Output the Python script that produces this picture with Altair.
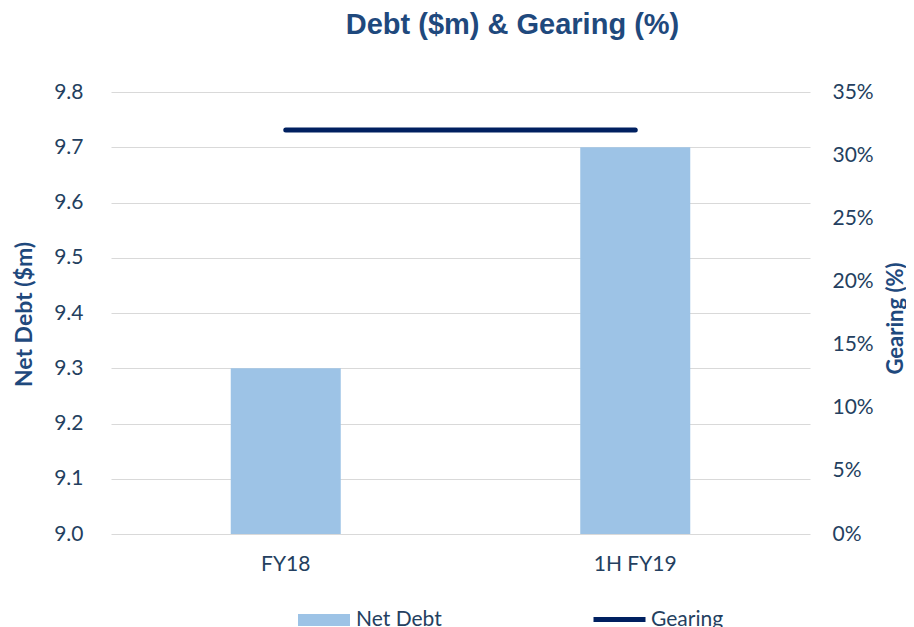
import altair as alt
import pandas as pd

categories = ["FY18", "1H FY19"]
net_debt = [9.3, 9.7]
gearing = [0.32, 0.32]
debt_ticks = [9.0, 9.1, 9.2, 9.3, 9.4, 9.5, 9.6, 9.7, 9.8]
gearing_ticks = [0.0, 0.05, 0.10, 0.15, 0.20, 0.25, 0.30, 0.35]

df = pd.DataFrame({
    "period": categories,
    "net_debt": net_debt,
    "gearing": gearing,
    "debt_series": ["Net Debt"] * len(categories),
    "gear_series": ["Gearing"] * len(categories),
})

TEXT = "#243F60"
TITLE = "#1F497D"
FONT = "Lato"

x_enc = alt.X(
    "period:N", sort=categories,
    scale=alt.Scale(paddingInner=0, paddingOuter=0),
    axis=alt.Axis(title=None, labelAngle=0, ticks=False, domain=False, grid=False,
                  labelPadding=19, labelFontSize=21, labelFont=FONT, labelColor=TEXT),
)

bars = alt.Chart(df).mark_bar(size=110).encode(
    x=x_enc,
    y=alt.Y("net_debt:Q",
            scale=alt.Scale(domain=[9.0, 9.8], zero=False, nice=False),
            axis=alt.Axis(orient="left", values=debt_ticks, format=".1f",
                          title="Net Debt ($m)", grid=True, gridColor="#D9D9D9",
                          ticks=False, domain=False, labelPadding=28,
                          labelFontSize=21, labelFont=FONT, labelColor=TEXT,
                          titleFont=FONT, titleFontSize=23, titleFontWeight="bold",
                          titleColor=TITLE, titleAngle=270, titleX=-87, titleY=222,
                          titleAlign="center", titleBaseline="middle")),
    y2=alt.datum(9.0),
    fill=alt.Fill("debt_series:N", scale=alt.Scale(range=["#9DC3E6"]),
                  legend=alt.Legend(title=None, orient="none", legendX=187, legendY=502,
                                    symbolType="M-1,-0.23H1V0.23H-1Z", symbolSize=2704,
                                    symbolStrokeWidth=0, labelFontSize=21, labelFont=FONT,
                                    labelColor=TEXT, labelOffset=6)),
)

line = alt.Chart(df).mark_line(strokeWidth=5, strokeCap="round").encode(
    x=x_enc,
    y=alt.Y("gearing:Q",
            scale=alt.Scale(domain=[0, 0.35], nice=False),
            axis=alt.Axis(orient="right", values=gearing_ticks, format=".0%",
                          title="Gearing (%)", grid=False,
                          ticks=False, domain=False, labelPadding=22,
                          labelFontSize=21, labelFont=FONT, labelColor=TEXT,
                          titleFont=FONT, titleFontSize=22, titleFontWeight="bold",
                          titleColor=TITLE, titleAngle=270, titleX=85, titleY=226,
                          titleAlign="center", titleBaseline="middle")),
    stroke=alt.Stroke("gear_series:N", scale=alt.Scale(range=["#002060"]),
                      legend=alt.Legend(title=None, orient="none", legendX=480, legendY=499,
                                        symbolType="stroke", symbolSize=2704,
                                        symbolStrokeWidth=5, labelFontSize=21, labelFont=FONT,
                                        labelColor=TEXT, labelOffset=3)),
)

chart = alt.layer(bars, line).resolve_scale(y="independent").properties(
    width=699, height=442,
    autosize=alt.AutoSizeParams(type="none"),
    padding={"left": 103, "top": 84, "right": 96, "bottom": 93},
    title=alt.TitleParams("Debt ($m) & Gearing (%)", font="Liberation Sans", fontSize=29,
                          fontWeight="bold", color=TITLE, anchor="middle", dx=52,
                          offset=18, baseline="alphabetic", frame="group"),
).configure_view(stroke=None)

chart.save("out.html", embed_options={"renderer": "svg", "actions": False})
